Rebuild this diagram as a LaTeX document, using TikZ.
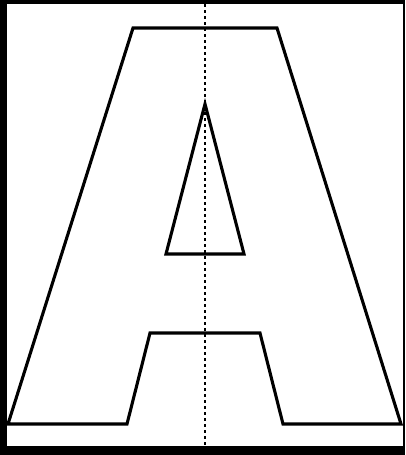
\documentclass[tikz,border=0pt]{standalone}
\begin{document}
\begin{tikzpicture}[x=1pt,y=-1pt,
  outline/.style={line width=3.1pt,line join=miter,black},
  axis/.style={line width=2.8pt,dash pattern=on 3pt off 3pt,black}]
\useasboundingbox (0,0) rectangle (405,455);
\fill[black] (0,0) rectangle (405,455);
\fill[white] (7,4) rectangle (403,446);
% outer A
\draw[outline] (133,28) -- (277,28) -- (401,424) -- (283,424) -- (260,333)
  -- (150,333) -- (127,424) -- (8,424) -- cycle;
% inner triangle
\draw[outline] (205,104) -- (244,254) -- (166,254) -- cycle;
% symmetry axis
\coordinate (top) at (205,4);
\coordinate (bot) at (205,445);
\draw[axis] (top) -- (bot);
\end{tikzpicture}
\end{document}
